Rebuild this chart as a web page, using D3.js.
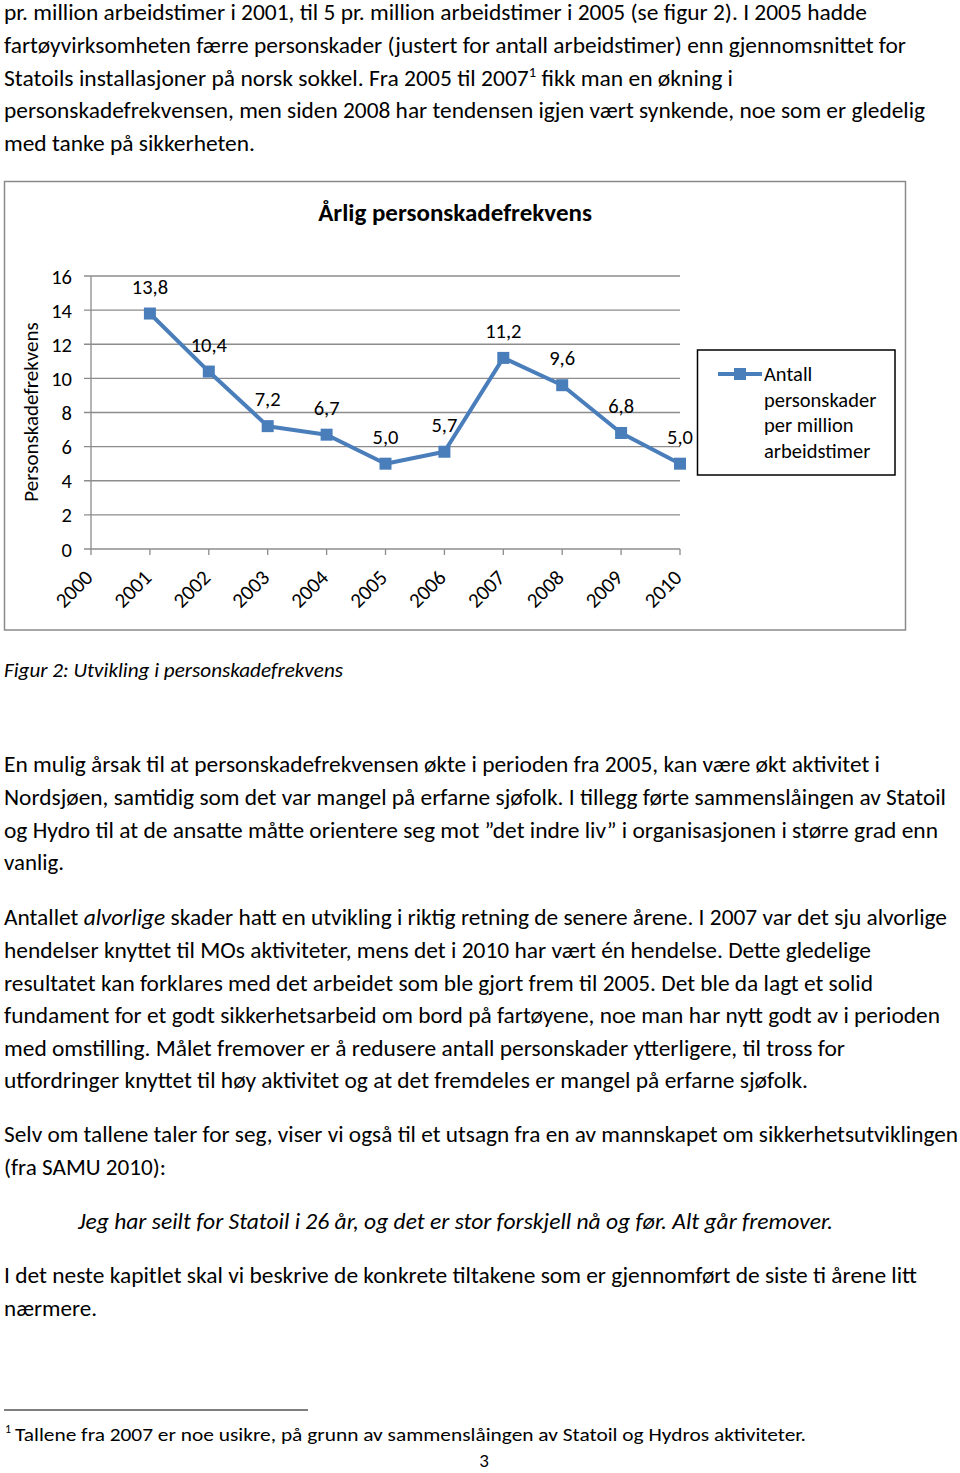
<!DOCTYPE html>
<html><head><meta charset="utf-8">
<script src="https://cdn.jsdelivr.net/npm/d3@7"></script>
<style>
html,body{margin:0;padding:0;background:#fff;}
svg{display:block;}
text{font-family:Carlito,Lato,"Open Sans",sans-serif;fill:#000;}
</style></head>
<body>
<svg id="page" width="960" height="1473"></svg>
<script>
// ---- chart data ----
const years = ["2000","2001","2002","2003","2004","2005","2006","2007","2008","2009","2010"];
const values = [null, 13.8, 10.4, 7.2, 6.7, 5.0, 5.7, 11.2, 9.6, 6.8, 5.0];
const yTicks = [0, 2, 4, 6, 8, 10, 12, 14, 16];
const chartTitle = "Årlig personskadefrekvens";
const yAxisTitle = "Personskadefrekvens";
const legendLines = ["Antall", "personskader", "per million", "arbeidstimer"];

// ---- document text ----
const paraTop = [
  [{t:"pr. million arbeidstimer i 2001, til 5 pr. million arbeidstimer i 2005 (se figur 2). I 2005 hadde"}],
  [{t:"fartøyvirksomheten færre personskader (justert for antall arbeidstimer) enn gjennomsnittet for"}],
  [{t:"Statoils installasjoner på norsk sokkel.  Fra 2005 til 2007"},{t:"1",sup:true},{t:" fikk man en økning i"}],
  [{t:"personskadefrekvensen, men siden 2008 har tendensen igjen vært synkende, noe som er gledelig"}],
  [{t:"med tanke på sikkerheten."}]
];
const caption = [[{t:"Figur 2: Utvikling i personskadefrekvens", it:true}]];
const para2 = [
  [{t:"En mulig årsak til at personskadefrekvensen økte i perioden fra 2005, kan være økt aktivitet i"}],
  [{t:"Nordsjøen, samtidig som det var mangel på erfarne sjøfolk. I tillegg førte sammenslåingen av Statoil"}],
  [{t:"og Hydro til at de ansatte måtte orientere seg mot ”det indre liv” i organisasjonen i større grad enn"}],
  [{t:"vanlig."}]
];
const para3 = [
  [{t:"Antallet "},{t:"alvorlige",it:true},{t:" skader hatt en utvikling i riktig retning de senere årene. I 2007 var det sju alvorlige"}],
  [{t:"hendelser knyttet til MOs aktiviteter, mens det i 2010 har vært én hendelse. Dette gledelige"}],
  [{t:"resultatet kan forklares med det arbeidet som ble gjort frem til 2005. Det ble da lagt et solid"}],
  [{t:"fundament for et godt sikkerhetsarbeid om bord på fartøyene, noe man har nytt godt av i perioden"}],
  [{t:"med omstilling. Målet fremover er å redusere antall personskader ytterligere, til tross for"}],
  [{t:"utfordringer knyttet til høy aktivitet og at det fremdeles er mangel på erfarne sjøfolk."}]
];
const para4 = [
  [{t:"Selv om tallene taler for seg, viser vi også til et utsagn fra en av mannskapet om sikkerhetsutviklingen"}],
  [{t:"(fra SAMU 2010):"}]
];
const quote = [[{t:"Jeg har seilt for Statoil i 26 år, og det er stor forskjell nå og før. Alt går fremover.", it:true}]];
const para5 = [
  [{t:"I det neste kapitlet skal vi beskrive de konkrete tiltakene som er gjennomført de siste ti årene litt"}],
  [{t:"nærmere."}]
];
const footnote = [[{t:"Tallene fra 2007 er noe usikre, på grunn av sammenslåingen av Statoil og Hydros aktiviteter."}]];

// layout for text blocks: [lines, x, baselines, line end x, font size]
const blocks = [
  [paraTop, 4, [19.5, 52.5, 85.5, 118, 151], [867, 906, 733, 925, 255], 22],
  [caption, 4, [677], [343], 20],
  [para2, 4, [772, 805, 838, 870], [880, 946, 938, 64], 22],
  [para3, 4, [925, 958, 991, 1023, 1056, 1088], [947, 871, 873, 940, 845, 808], 22],
  [para4, 4, [1142, 1175], [958, 166], 22],
  [quote, 78, [1229], [833], 22],
  [para5, 4, [1283, 1316], [917, 97], 22],
  [footnote, 15, [1441], [806], 18]
];

const svg = d3.select("#page");

blocks.forEach(([lines, x0, bls, ends, fs]) => {
  lines.forEach((segs, i) => {
    const t = svg.append("text")
      .attr("x", x0).attr("y", bls[i])
      .attr("font-size", fs)
      .attr("textLength", ends[i] - x0)
      .attr("lengthAdjust", "spacingAndGlyphs");
    segs.forEach((s, k) => {
      const ts = t.append("tspan").text(s.t);
      if (s.it) ts.attr("font-style", "italic");
      if (s.sup) ts.attr("font-size", fs * 0.62).attr("dy", -9);
      if (k > 0 && segs[k - 1].sup) ts.attr("dy", 9);
    });
  });
});

// footnote rule, marker, page number
svg.append("line").attr("x1", 4).attr("x2", 308).attr("y1", 1410).attr("y2", 1410)
  .attr("stroke", "#000").attr("stroke-width", 1.2);
svg.append("text").attr("x", 5).attr("y", 1433).attr("font-size", 12).text("1");
svg.append("text").attr("x", 484).attr("y", 1467).attr("font-size", 19)
  .attr("text-anchor", "middle").text("3");

// ---- chart ----
const blue = "#4a7ebb";
const grid = "#8c8c8c";
svg.append("rect").attr("x", 4.5).attr("y", 181.5).attr("width", 901).attr("height", 448.5)
  .attr("fill", "#fff").attr("stroke", "#8a8a8a").attr("stroke-width", 1.5);

svg.append("text").attr("x", 455).attr("y", 221).attr("text-anchor", "middle")
  .attr("font-size", 25).attr("font-weight", "bold").text(chartTitle);

const x = d3.scalePoint().domain(years).range([91, 680]);
const y = d3.scaleLinear().domain([0, 16]).range([549, 276]);

const g = svg.append("g");
// gridlines
g.selectAll("line.grid").data(yTicks).join("line")
  .attr("x1", 84).attr("x2", 680)
  .attr("y1", d => y(d)).attr("y2", d => y(d))
  .attr("stroke", grid).attr("stroke-width", 1.3);
// y axis line
g.append("line").attr("x1", x(years[0])).attr("x2", x(years[0]))
  .attr("y1", y(0)).attr("y2", y(16)).attr("stroke", grid).attr("stroke-width", 1.3);
// y tick labels
g.selectAll("text.yt").data(yTicks).join("text")
  .attr("x", 72).attr("y", d => y(d) + 7.5)
  .attr("text-anchor", "end").attr("font-size", 20.5).text(d => d);
// x ticks
g.selectAll("line.xt").data(years).join("line")
  .attr("x1", d => x(d)).attr("x2", d => x(d))
  .attr("y1", y(0)).attr("y2", y(0) + 6)
  .attr("stroke", grid).attr("stroke-width", 1.3);
// x labels
g.selectAll("text.xl").data(years).join("text")
  .attr("text-anchor", "end").attr("font-size", 21)
  .attr("transform", d => `translate(${x(d) + 3},${y(0) + 30}) rotate(-45)`)
  .text(d => d);
// y axis title
svg.append("text").attr("font-size", 21).attr("text-anchor", "middle")
  .attr("transform", "translate(38,412) rotate(-90)").text(yAxisTitle);

// line + markers
const pts = years.map((yr, i) => ({yr, v: values[i]})).filter(d => d.v != null);
const fmt = v => d3.format(".1f")(v).replace(".", ",");
g.append("path").datum(pts)
  .attr("d", d3.line().x(d => x(d.yr)).y(d => y(d.v)))
  .attr("fill", "none").attr("stroke", blue).attr("stroke-width", 4).attr("stroke-linejoin", "round");
g.selectAll("rect.mk").data(pts).join("rect")
  .attr("x", d => x(d.yr) - 6).attr("y", d => y(d.v) - 6)
  .attr("width", 12).attr("height", 12).attr("fill", blue);
g.selectAll("text.dl").data(pts).join("text")
  .attr("x", d => x(d.yr)).attr("y", d => y(d.v) - 20)
  .attr("text-anchor", "middle").attr("font-size", 20.5).text(d => fmt(d.v));

// legend
const lg = svg.append("g");
lg.append("rect").attr("x", 697.5).attr("y", 350).attr("width", 197.5).attr("height", 125)
  .attr("fill", "#fff").attr("stroke", "#000").attr("stroke-width", 1.5);
lg.append("line").attr("x1", 718).attr("x2", 762).attr("y1", 374).attr("y2", 374)
  .attr("stroke", blue).attr("stroke-width", 4);
lg.append("rect").attr("x", 734).attr("y", 368).attr("width", 12).attr("height", 12).attr("fill", blue);
lg.selectAll("text").data(legendLines).join("text")
  .attr("x", 764).attr("y", (d, i) => 381 + i * 25.5)
  .attr("font-size", 20.5).text(d => d);
</script>
</body></html>
